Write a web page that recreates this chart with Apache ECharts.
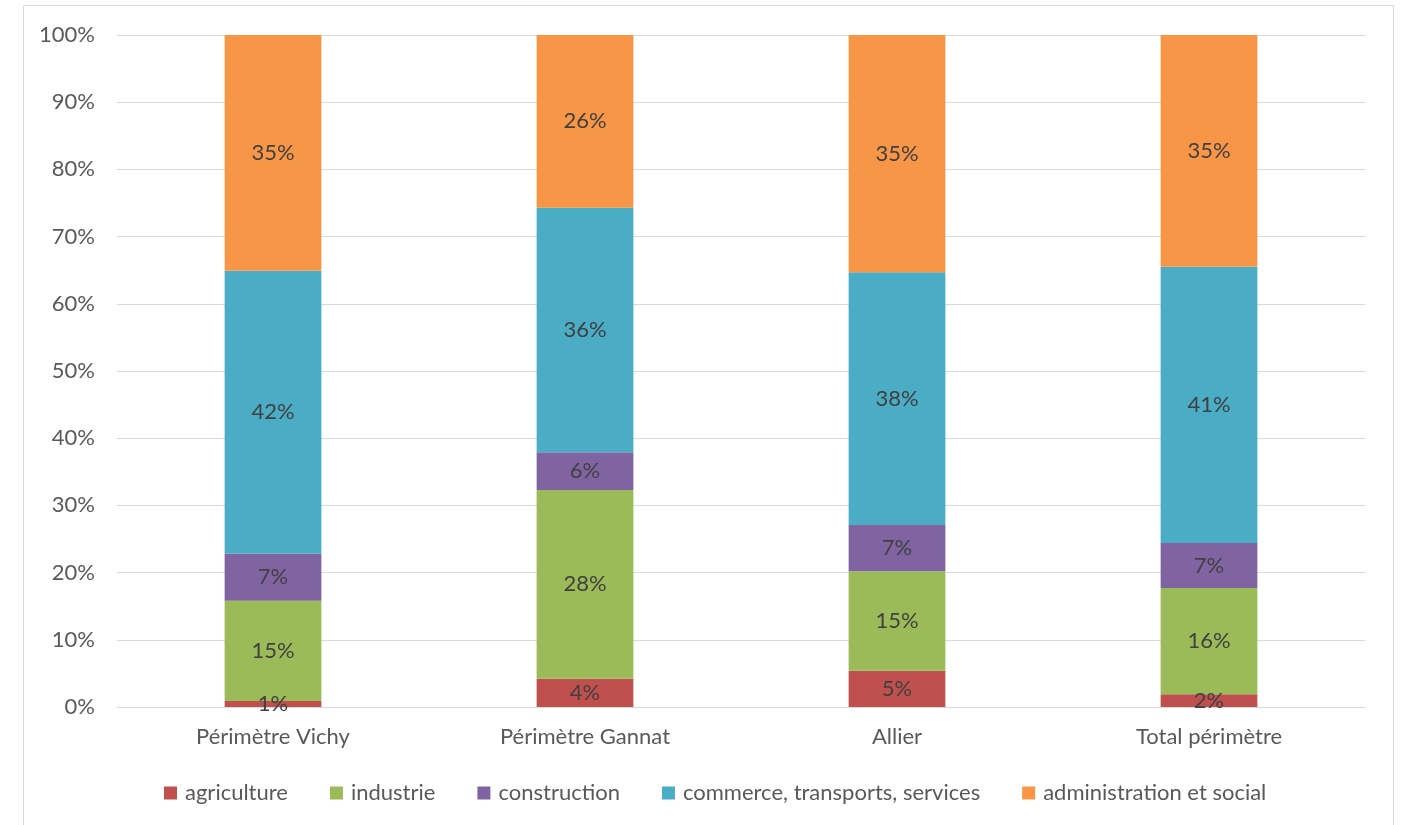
<!DOCTYPE html>
<html>
<head>
<meta charset="utf-8">
<script src="https://cdn.jsdelivr.net/npm/echarts@6/dist/echarts.min.js"></script>
<style>
  html, body { margin: 0; padding: 0; background: #fff; }
  #chart { width: 1402px; height: 825px; }
</style>
</head>
<body>
<div id="chart"></div>
<script>
  /* catégories */
  var categories = ['Périmètre Vichy', 'Périmètre Gannat', 'Allier', 'Total périmètre'];

  /* parts en % */
  var agriculture = [0.9, 4.2, 5.4, 1.9];
  var industrie = [14.9, 28.1, 14.8, 15.8];
  var construction = [7.0, 5.6, 6.9, 6.7];
  var commerce = [42.1, 36.4, 37.6, 41.1];
  var administration = [35.1, 25.7, 35.3, 34.5];

  var yTicks = [0, 10, 20, 30, 40, 50, 60, 70, 80, 90, 100];

  var seriesNames = ['agriculture', 'industrie', 'construction', 'commerce, transports, services', 'administration et social'];
  var seriesData = [agriculture, industrie, construction, commerce, administration];
  var colors = ['#c0504d', '#9bbb59', '#8064a2', '#4bacc6', '#f79646'];

  var font = 'Lato, "Open Sans", sans-serif';

  var chart = echarts.init(document.getElementById('chart'));

  var series = seriesNames.map(function (name, i) {
    return {
      name: name,
      type: 'bar',
      stack: 'total',
      barWidth: '31%',
      data: seriesData[i],
      itemStyle: { color: colors[i] },
      label: {
        show: true,
        position: 'inside',
        color: '#404040',
        fontSize: 22,
        fontFamily: font,
        formatter: function (p) {
          return Math.round(p.value) + '%';
        }
      },
      emphasis: { disabled: true }
    };
  });

  chart.setOption({
    animation: false,
    graphic: [{
      type: 'rect',
      shape: { x: 23.5, y: 5.5, width: 1370, height: 840 },
      style: { fill: 'none', stroke: '#d9d9d9', lineWidth: 1 },
      silent: true
    }],
    grid: { left: 117, right: 37, top: 35, bottom: 118 },
    legend: {
      left: 159,
      top: 777,
      itemWidth: 13,
      itemHeight: 13,
      itemGap: 42,
      icon: 'rect',
      textStyle: { color: '#595959', fontSize: 22, fontFamily: font, padding: [0, 0, 0, 3] },
      data: seriesNames
    },
    xAxis: {
      type: 'category',
      data: categories,
      axisLine: { lineStyle: { color: '#d9d9d9' } },
      axisTick: { show: false },
      axisLabel: { color: '#595959', fontSize: 22, fontFamily: font, margin: 19 }
    },
    yAxis: {
      type: 'value',
      min: yTicks[0],
      max: yTicks[yTicks.length - 1],
      interval: 10,
      axisLine: { show: false },
      axisTick: { show: false },
      splitLine: { lineStyle: { color: '#d9d9d9', width: 1 } },
      axisLabel: {
        color: '#595959', fontSize: 22, fontFamily: font, margin: 22,
        formatter: '{value}%'
      }
    },
    series: series
  });
</script>
</body>
</html>
